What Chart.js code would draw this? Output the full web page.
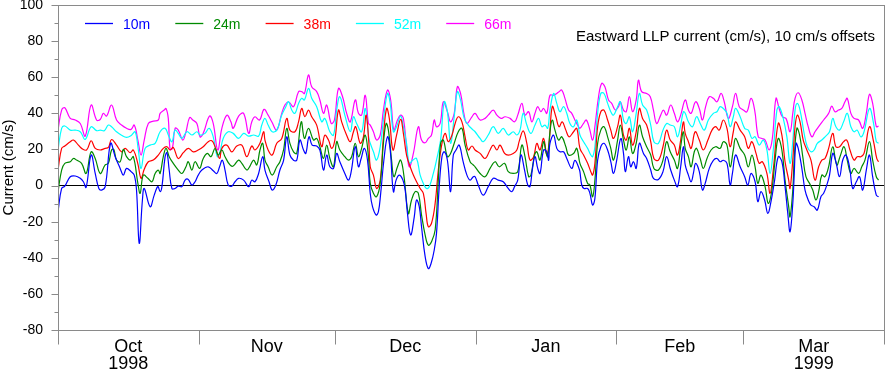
<!DOCTYPE html>
<html>
<head>
<meta charset="utf-8">
<script src="https://cdn.jsdelivr.net/npm/chart.js@4"></script>
<style>
  html, body { margin: 0; padding: 0; background: #fff; }
  #wrap { width: 885px; height: 372px; }
</style>
</head>
<body>
<div id="wrap"><canvas id="llpChart" width="885" height="372"></canvas></div>
<script>
// [day since 1 Oct 1998, eastward current cm/s] -- each depth already offset by 10 cm/s
const m10 = [[0,-14.5],[0.8,-1.6],[1.5,-0.3],[2.7,4.9],[3.8,5.3],[4.9,4],[5.6,2.1],[6.2,-1],[7.3,16.9],[8.2,6.7],[9,-1.6],[9.6,-2.5],[10.4,-0.6],[11.6,23.4],[12.6,16],[13.7,9.5],[14.4,5.8],[15.1,9.5],[16.1,7.7],[16.8,5.8],[17.3,-2.5],[17.9,-32],[18.6,-8],[19,-1.6],[20.3,-11.7],[21.2,-5.3],[22,-0.6],
  [22.5,-3.4],[22.9,-0.6],[23.6,16],[24,18.2],[24.5,8.6],[25.1,-1.6],[25.8,-1.6],[26.5,-0.3],[27.3,-0.6],[28,3],[28.7,3.4],[29.5,0.3],[30.2,2.1],[30.9,5.8],[31.7,8.6],[33.1,10.4],[34.2,8.2],[35,6.7],[35.6,10.4],[36.2,14],[36.8,8.6],[37.5,0.3],[38.3,-0.3],[39,2.1],[39.8,4],[40.9,3],[42,-0.6],[42.7,3],[43.4,2.1],[44.2,6.7],[45.1,16],
  [45.6,8.6],[46.5,2.1],[47.2,-2.5],[48,0.3],[48.9,8.6],[49.7,14],[50.4,27],[51.1,16.9],[51.9,14],[52.6,14],[53.3,25.2],[54.1,19.7],[54.6,17.8],[55.3,27],[56,22.4],[57,21.9],[57.7,19.7],[58.5,8.6],[59.2,16.9],[59.9,10.4],[60.7,9.5],[61.4,17.8],[62.1,13.2],[63.2,6.7],[64,3],[64.6,7.7],[65.5,21.5],[66.2,10.4],[66.8,15],[67.5,20.6],[68.2,14],
  [68.8,-4.3],[69.3,-11.7],[70.1,-16.3],[70.6,-14.5],[71.1,-4.3],[71.8,14],[72.6,27],[73.2,19.7],[73.9,-3.4],[74.5,3],[75.2,5.8],[76,3],[76.5,-2.5],[77,-15.4],[77.7,-27.4],[78.5,-17.3],[79,-8],[79.6,-11.7],[80.1,-22.8],[80.9,-39.4],[81.6,-46],[82.2,-43.2],[82.9,-35.7],[83.4,-26.5],[84,-0.6],[84.6,16],[85.1,18.7],[85.8,14],[86.5,-3.4],[87.1,16.9],[87.7,19.7],[88.4,22.4],[89.2,14],[90.1,5.8],[90.8,3],[91.5,4.9],
  [91.9,4.9],[92.6,0.3],[93.7,-5.3],[94.8,-0.6],[95.9,4],[97,3],[98.1,2.1],[99.2,-1.6],[100,-3.4],[100.6,-0.6],[101.3,3],[102,16.9],[102.8,8.6],[103.5,0.3],[104,-0.6],[104.5,8.6],[105.1,16],[105.7,9.5],[106.2,6.7],[107,19.7],[107.7,18.7],[108.1,14],[108.4,23.4],[109.2,27.9],[109.9,20.6],[110.6,18.7],[111.4,18.7],[112.1,15],[113.2,9.5],[113.9,14],[114.8,9.5],
  [115,7.7],[115.4,0.3],[115.9,-1.6],[116.7,-1.6],[117.2,-4.3],[117.8,-10.8],[118.3,-7.1],[118.9,14],[119.6,21.5],[120.3,23.4],[121.1,19.7],[121.8,13.2],[122.4,6.7],[123.1,14],[124,26],[124.6,17.8],[125,7.7],[125.7,16],[126.2,10.4],[126.8,13.2],[127.4,9.5],[128.1,23.4],[129,17.8],[129.7,15],[130.6,8.6],[131.2,4],[132.3,3.4],[133.3,7.7],[134.1,16],[135,8.6],[135.8,3],[136.5,-0.6],[137.2,10.4],[137.8,21.5],
  [138.2,11.4],[138.9,5.8],[139.5,2.1],[140,6.7],[140.5,12.3],[141.3,7.7],[142,-2.5],[142.6,1.2],[143.5,9.5],[144.4,14],[145.2,15],[145.9,13.2],[146.6,14],[147.4,12.3],[148.1,0.3],[148.6,6.7],[149.3,16.9],[150.3,10.4],[151.3,4.9],[152,0.3],[152.7,6.7],[153.6,2.1],[154.2,-8.9],[154.9,-3.4],[155.7,-8],[156.4,-15.4],[157.1,-8.9],[157.9,3],[158.7,16],[159.5,13.2],[160.2,-0.6],[160.8,-15.4],[161.3,-25.6],
  [161.9,-9.9],[162.2,4.9],[162.6,23.4],[163.1,20.6],[163.9,9.5],[164.6,-2.5],[165.3,-8],[165.9,-10.8],[166.6,-11.7],[167.3,-13.6],[168.1,-6.2],[168.7,-4.3],[169.4,0.3],[170,5.8],[170.7,17.8],[171.4,13.2],[172.2,4.9],[172.9,14],[173.6,16.9],[174.4,10.4],[175.1,-1.6],[175.9,2.1],[176.6,4.9],[177.3,-2.5],[178.1,8.6],[178.8,16.9],[179.5,4.9],[180.3,-5.3],[180.8,-6.2]];

const m24 = [[0,-3.4],[0.8,8.6],[1.5,12.3],[2.7,13.2],[3.4,15],[4.1,14.1],[5.2,12.3],[6.2,6.7],[7.3,18.7],[8.2,15],[9.3,6.7],[10.4,11.4],[11.1,12.3],[11.8,19.7],[12.3,20],[12.9,14.1],[13.7,13.2],[14.4,20],[15.1,16],[15.9,14.1],[16.6,16],[17.6,1.2],[18.1,-4.3],[18.8,5.8],[19.8,4],[20.7,2.1],[21.4,6.7],[22.1,8.6],
  [22.5,6.7],[23.2,16],[23.8,20.6],[24.5,16],[25.4,12.3],[26.5,8.6],[27.3,6.7],[28.2,10.4],[28.7,13.2],[29.5,8.6],[30.2,13.2],[31.2,9.5],[32,15],[32.9,17.8],[33.7,16],[34.6,20.6],[35.3,16.9],[36.1,19.7],[36.8,16],[37.9,11.4],[38.6,10.8],[39.8,14.1],[40.5,12.3],[41.6,8.6],[42.3,10.8],[43.1,14.1],[43.8,11.4],[44.5,19.7],[45.1,23.4],
  [45.6,14.1],[46.3,10.4],[47.2,5.8],[48.2,10.4],[48.9,13.2],[49.7,19.7],[50.4,31.7],[51.1,23.4],[51.9,18.7],[52.6,17.8],[53.6,35.3],[54.3,26.1],[55.2,31.7],[56.3,25.2],[57,26.1],[57.7,21.5],[58.5,15],[59.2,22.4],[59.9,15],[60.7,10.4],[61.4,24.3],[62.1,19.7],[63.2,16],[64,14.1],[64.7,16],[65.5,23.4],[66.2,16],[66.9,20.6],[67.7,27.9],[68.4,16],
  [68.8,1.2],[69.5,-4.3],[70.2,-6.2],[71,1.2],[71.7,23.4],[72.3,34.4],[72.8,30.7],[73.5,14.1],[74,4.9],[74.8,10.4],[75.5,14.1],[76.2,5.8],[77.2,-15.4],[77.9,-8],[78.7,-3.4],[79.4,-4.3],[80.1,-16.3],[80.9,-27.4],[81.6,-33],[82.3,-31.1],[83.1,-24.6],[83.8,3],[84.3,23.4],[84.9,25.2],[85.8,16],[86.5,17.8],[87.3,23.4],[88.2,29.8],[89,31.7],[89.7,22.4],[90.8,13.2],[91.5,11.4],
  [91.9,10.4],[93,6.7],[94.1,4.9],[95.2,9.5],[96.3,13.2],[97.2,10.4],[98.4,12.3],[99.2,7.7],[100.3,6.7],[101.3,7.7],[102.2,22.4],[102.9,16],[103.7,4.9],[104.2,5.8],[105,16.9],[105.5,18.7],[106.2,14.1],[107,24.3],[107.5,18.7],[107.9,16],[108.4,29.8],[108.9,36.3],[109.5,30.7],[110.3,25.2],[111,27],[111.9,21.5],[112.5,16.9],[113.6,17.8],[114.3,20.6],
  [115,12.3],[115.8,7.7],[116.7,1.2],[117.2,0.3],[117.8,-6.2],[118.3,3],[118.9,23.4],[119.6,30.7],[120.3,32.6],[121.1,27],[121.8,20.6],[122.4,14.1],[123.3,25.2],[123.9,33.5],[124.6,25.2],[125.2,19.7],[125.9,27],[126.6,17.8],[127.4,23.4],[128.1,33.5],[128.8,27],[129.7,21.5],[130.6,16.9],[131.3,9.5],[132.3,8.6],[133.3,14.1],[134.1,24.3],[134.9,18.7],[135.8,14.1],[136.5,9.5],[137.2,21.5],[137.8,29.8],
  [138.2,20.6],[138.9,16],[139.5,10.4],[140.2,18.7],[140.7,20.6],[141.5,15],[142.2,9.5],[143,15],[143.9,19.7],[144.9,21.5],[145.9,20.6],[146.6,24.3],[147.4,22.4],[148.1,10.4],[148.8,19.7],[149.3,26.1],[150.3,20.6],[151.3,16.9],[152.1,10.4],[152.9,16.9],[153.6,10.4],[154.2,1.2],[154.9,5.8],[155.8,-0.6],[156.5,-9.9],[157.3,-2.5],[158,14.1],[158.7,26.1],[159.5,19.7],[160.2,3],[161,-11.7],
  [161.3,-17.3],[161.9,-2.5],[162.2,14.1],[162.8,31.7],[163.4,28],[164.1,16],[164.8,4.9],[165.6,1.2],[166.3,-2.5],[167,-8],[167.6,-3.4],[168.3,5.8],[169,4.9],[169.8,10.4],[170.7,21.5],[171.6,11.4],[172.3,16],[173.2,21.5],[173.9,14.1],[174.7,6.7],[175.4,9.5],[176.4,6.7],[177.1,10.4],[177.8,14.1],[178.8,24.3],[179.5,14.1],[180.3,4.9],[180.8,3]];

const m38 = [[0,8.6],[0.8,20.6],[1.5,21.9],[2.7,24.3],[3.4,25.2],[4.5,22.4],[5.2,20.6],[6.3,19.7],[7.3,24.8],[8.2,20.6],[9.3,19.7],[10.4,20.6],[11.1,21.1],[11.8,25.5],[12.9,22.4],[14,18.7],[14.8,20.6],[15.9,18.2],[16.6,19.7],[17.6,12],[18.3,4],[19,9],[19.9,13.2],[21,14.1],[22.1,16.9],
  [23.2,20.6],[24,21.5],[24.7,19.7],[25.4,21.1],[26.5,15],[27.6,18.2],[28.7,20.6],[29.8,18.7],[30.9,19.7],[32,21.5],[33.1,24.3],[33.9,24.8],[34.6,21.5],[35.6,15],[36.1,20.6],[37.2,22.4],[38.3,18.7],[39.4,21.9],[40.5,22.4],[41.6,16],[42.7,21.9],[43.4,19.7],[44.5,23.4],[45.3,29.8],
  [45.6,25.2],[46.3,19.7],[47.2,16.9],[48.2,23.4],[49.3,26.1],[50.4,37.2],[51.1,30.7],[52.2,29.8],[53,35.3],[53.7,42.7],[54.4,38.1],[55.2,41.8],[55.9,38.1],[57,33.5],[58.1,21.5],[58.8,27.9],[59.6,25.2],[60.3,20.6],[61,25.2],[61.8,41.8],[62.5,35.3],[63.6,27.9],[64.4,24.3],[65.1,29.8],[65.6,32.6],[66.6,23.4],[67.3,27],[67.9,39],[68.5,23.4],
  [68.8,10.4],[69.5,5.8],[70.2,-1.6],[71,3],[71.7,27],[72.4,42.7],[73,37.2],[73.8,19.7],[74.6,27.9],[75.5,36.7],[76.1,28.9],[76.8,16.9],[77.6,10.4],[78.3,5.8],[79,2.1],[79.8,-1.6],[80.5,-4.3],[81.1,-15.4],[81.6,-22.8],[82.3,-20.9],[83.1,-9.9],[83.8,8.6],[84.6,23.4],[85.3,28.9],[86,24.3],[86.8,27.9],[87.5,34.4],[88.2,38.1],[89,35.3],[89.7,27],[90.4,19.7],[91.2,21.9],
  [91.9,19.7],[93,17.8],[94.1,15],[95.2,19.7],[95.9,22.4],[96.7,19.7],[97.4,22.4],[98.4,17.8],[99.2,16.9],[100.3,17.8],[101.1,19.7],[101.6,24.3],[102.5,30.3],[103.3,23.4],[104,14.1],[104.8,16],[105.5,23.4],[106.2,19.7],[107,26.1],[107.7,16.9],[108.2,23.4],[108.9,43.7],[109.7,38.1],[110.4,32.6],[111.1,35.3],[111.9,30.7],[112.6,27],[113.6,29.8],[114.3,31.7],
  [115,20.6],[115.8,16.9],[116.7,12.3],[117.4,7.7],[117.8,5.8],[118.3,12.3],[118.9,32.6],[119.6,40.9],[120.3,41.8],[121.1,36.3],[121.8,30.7],[122.4,26.1],[123.3,32.6],[123.9,39],[124.6,27.9],[125.2,25.2],[125.9,31.7],[126.6,22.4],[127.4,29.8],[128.1,42.7],[128.8,37.2],[129.7,33.5],[130.6,24.3],[131.3,15],[132.3,14.1],[133.3,21.5],[134.1,30.7],[134.9,25.2],[135.8,22.4],[136.5,16.9],[137.2,25.2],[137.8,35.3],
  [138.2,28.9],[138.9,24.3],[139.5,20.6],[140.4,29.8],[141.3,25.2],[142.2,19.7],[143.2,25.2],[144.1,30.7],[144.9,32.6],[145.7,30.7],[146.6,36.3],[147.4,31.7],[148.1,21.5],[148.8,29.8],[149.3,35.3],[150.3,30.7],[151.3,27],[152.1,20.6],[152.9,24.3],[153.8,17.8],[154.5,12.3],[155.2,13.2],[156.2,6.7],[156.9,-4.3],[157.6,8.6],[158.7,34.4],[159.5,27.9],[160.2,13.2],[161,3],
  [161.3,-1.6],[161.9,14.1],[162.4,32.6],[162.9,39],[163.5,35.3],[164.2,25.2],[165,19.7],[165.9,14.1],[166.8,3],[167.6,10.4],[168.3,14.1],[169,15],[169.8,20.6],[170.7,28.9],[171.4,21.5],[172.2,21.5],[173.1,24.3],[173.8,25.2],[174.5,19.7],[175.4,14.1],[176.1,16],[176.9,16],[177.6,17.8],[178.8,32.6],[179.7,24.3],[180.4,15],[180.8,13.2]];

const m52 = [[0,19.7],[0.8,31.7],[1.5,33],[2.7,30.7],[3.8,30.7],[4.9,29.8],[6,25.6],[7.3,32.6],[8.5,30.4],[9.3,30.7],[10.2,30.4],[11.1,33.5],[11.8,32.6],[12.9,29.8],[14,27.9],[15.1,26.7],[16.2,27.9],[17,29.8],[17.7,19.7],[18.3,9.5],[19.2,20.6],[20.3,22.4],[21.4,23.4],
  [22.5,29.8],[23.6,31.7],[24.3,28],[25.1,24.3],[25.8,30.7],[26.5,28.9],[27.3,26.1],[28.4,29.8],[29.5,28],[30.6,29.8],[31.3,28],[32.4,28.9],[33.3,31.7],[34.2,27],[35.1,16],[35.7,18.7],[36.4,26.1],[37.5,29.8],[38.6,28.9],[39.8,26.1],[40.9,28.9],[42,27.4],[43.1,28],[44.2,27.4],[44.9,33.5],
  [45.6,37.2],[46.3,33.5],[47.2,29.8],[48.2,30.7],[49.3,39],[50.2,43.7],[50.8,46.4],[51.5,41.8],[52.2,40],[53,45.5],[53.7,48.3],[54.3,47.4],[55.2,53.8],[55.9,48.3],[57,43.7],[58.1,35.3],[58.8,37.2],[59.9,29.8],[60.7,27.9],[61.4,41.8],[62.1,49.2],[63.2,39],[64.4,29.8],[65.1,38.1],[65.8,34.4],[66.9,29.8],[67.7,42.7],[68.5,26.1],
  [68.8,23.4],[69.5,18.7],[70.2,14.1],[71,21.5],[71.7,36.3],[72.6,51],[73.2,45.5],[73.9,29.8],[74.6,32.6],[75.5,38.5],[76.1,32.6],[76.8,23.4],[77.4,12.3],[78.2,14.1],[79,15],[79.8,5.8],[80.5,1.2],[81.2,-1.6],[81.8,-0.6],[82.7,6.7],[83.4,14.1],[84.3,25.2],[85.1,46.4],[85.8,40.9],[86.5,23.4],[87.3,38.1],[88,52],[88.7,47.4],[89.5,37.2],[90.4,33.5],[91.5,30.7],
  [91.9,29.8],[93,26.1],[93.7,24.3],[94.8,28],[95.9,32.6],[97,28.9],[98.1,31.7],[99.2,28],[100.3,29.8],[101.1,28],[101.8,30.7],[102.5,40],[103.3,33.5],[104.2,28.9],[105.1,33.5],[105.9,37.2],[106.6,32.6],[107.3,33.5],[107.9,31.7],[108.4,41.8],[109.2,51],[109.9,45.5],[110.6,40.9],[111.4,43.7],[112.1,40],[112.8,34.4],[113.6,32.6],[114.3,36.3],
  [115,28],[115.8,24.3],[116.7,20.6],[117.4,16.9],[117.8,16],[118.3,21.5],[118.9,40],[119.6,51],[120.3,51],[121.1,45.5],[121.8,40.9],[122.4,39],[123.3,43.7],[123.9,46.4],[124.6,36.3],[125.2,34.4],[125.9,38.1],[126.6,29.8],[127.4,40],[128.1,51],[128.8,44.6],[129.7,41.8],[130.6,33.5],[131.3,24.3],[132.3,23.4],[133.3,30.7],[134.1,34.4],[134.9,33.5],[135.8,32.6],[136.5,27],[137.2,33.5],[137.8,40.9],
  [138.2,40],[138.9,35.3],[139.8,32.6],[140.7,38.1],[141.5,34.4],[142.4,30.7],[143.3,36.3],[144.4,40],[145.2,40.9],[145.9,43.7],[146.6,42.7],[147.4,40],[148.1,32.6],[148.8,38.1],[149.3,42.7],[150.3,38.1],[151.3,31.7],[152.1,30.7],[152.9,26.1],[153.6,27],[154.5,22.4],[155.4,25.2],[156.2,19.7],[156.9,6.7],[157.6,19.7],[158.4,41.8],[158.9,43.7],[159.8,37.2],[160.6,27],
  [161.3,12.3],[161.9,24.3],[162.4,41.8],[162.9,45.5],[163.5,41.8],[164.4,28.9],[165.1,21.5],[165.9,18.7],[166.6,19.7],[167.3,23.4],[168.3,25.2],[169,27],[170,29.8],[170.7,37.2],[171.4,32.6],[172.2,30.7],[173.1,35.3],[173.9,40],[174.7,32.6],[175.4,29.8],[176.1,30.7],[176.9,27],[177.6,29.8],[178.8,42.7],[179.7,34.4],[180.3,24.3],[180.8,23.4]];

const m66 = [[0,30.7],[0.8,41.8],[1.5,43.1],[2.7,37.2],[3.8,36.3],[4.9,34.4],[6,27.4],[7.3,44.6],[8.5,36.3],[9.3,36.6],[10,40],[10.7,38.5],[11.8,44.6],[12.9,36.3],[14,33.5],[15.1,31.7],[16.1,31.1],[16.8,33.5],[17.6,25.2],[18.3,16.9],[19,25.2],[19.9,34.4],[21,35.7],[22.1,36.3],
  [22.5,40],[23.4,41.8],[23.8,42.7],[24.3,37.2],[24.7,20],[25.2,20.6],[25.8,31.7],[26.5,30.7],[27.5,25.2],[28.2,29.8],[29,37.7],[29.7,36.3],[30.6,34.4],[31.3,27],[32,28.9],[33.4,38.5],[34.2,34.4],[35.2,19.7],[36.1,31.7],[37.2,39],[38.1,35.3],[38.6,31.7],[39.8,38.5],[40.9,40],[42,28.9],[42.7,35.3],[43.4,38.1],[44.4,36.3],[45.4,42.2],
  [46.3,39],[47.1,35.3],[48.2,30.7],[49.3,40],[50,44.6],[50.8,46.4],[51.9,43.7],[53,52],[53.7,52],[54.3,51],[55.2,61.2],[55.9,54.7],[57,52],[57.7,47.4],[58.5,40],[59.2,44.6],[60.2,34.4],[60.9,36.3],[61.8,53.8],[62.7,49.2],[63.6,40],[64.4,35.3],[65.5,47.4],[66.2,40],[66.9,39],[67.7,50],[68.4,34.4],
  [68.8,33.5],[69.5,29.8],[70.2,25.2],[71,28],[71.7,41.8],[72.6,52.9],[73.3,47.4],[74,30.7],[74.8,36.3],[75.5,39],[76.1,37.2],[76.8,21.5],[77.4,10.4],[78.3,17.8],[79.4,32.6],[80.1,25.2],[80.9,23.7],[81.6,26.1],[82.3,28],[82.9,36.3],[83.4,32.6],[84.2,34.4],[84.9,46.4],[85.8,40.9],[86.5,35.3],[87.3,40],[88,54.7],[88.7,51],[89.5,39],[90.1,34.4],[91.2,38.1],
  [91.9,40],[93,36.3],[94.1,37.2],[94.8,39],[95.9,41.8],[96.7,39],[97.6,37.2],[98.5,38.1],[99.6,37.2],[100.6,35.3],[101.3,39],[102.2,45.5],[102.9,39],[103.7,40.9],[104.4,35.3],[105.1,40],[105.7,43.7],[106.4,40.9],[107,42.7],[107.7,40],[108.4,50],[109.2,50],[109.9,51],[110.4,52],[111,52.9],[111.7,48.3],[112.5,41.8],[113.2,40],[113.9,36.3],[114.7,32.6],
  [115,31.7],[115.8,34.4],[116.4,36.3],[117.1,31.7],[117.8,25.2],[118.3,32.6],[119.1,49.2],[119.8,56.6],[120.5,54.7],[121.3,47.4],[122,45.5],[122.8,41.8],[123.5,43.7],[123.9,46.4],[124.6,41.8],[125.2,40.9],[125.9,49.2],[126.6,40.9],[127.4,47.4],[127.9,58.4],[128.6,52],[129.7,51],[130.5,49.2],[131.2,41.8],[131.9,34.4],[132.8,39],[133.4,41.8],[134.1,39],[135,44.6],[135.8,40],[136.5,35.3],[137.2,39],
  [138.2,47.4],[138.9,41.8],[139.5,40],[140.5,46.4],[141.3,42.7],[142,36.3],[142.7,43.7],[143.5,49.2],[144.4,48.3],[145.2,46.4],[146.1,51],[146.8,46.4],[147.7,37.2],[148.6,43.7],[149.3,51],[150.1,43.7],[151,41.8],[151.8,40.9],[152.7,48.3],[153.5,41.8],[154.3,27],[155.1,26.1],[155.8,25.2],[156.7,19.7],[157.4,26.1],[158.2,48.3],[158.9,42.7],[159.6,38.1],[160.4,37.2],
  [161.3,29.8],[161.9,40],[162.4,48.3],[163.1,51.4],[163.9,47.4],[164.6,40],[165.3,32.6],[166.1,27],[166.8,29.8],[167.6,32.6],[168.7,36.3],[169.8,40],[170.5,44],[171.2,40.9],[172,41.8],[172.7,42.7],[173.4,46.4],[173.9,48.3],[174.7,40],[175.4,37.2],[176.4,36.3],[177.3,31.7],[178.1,40],[178.8,50.5],[179.5,45.5],[180.3,32.6],[180.8,32.9]];

const depthNames = ['10m', '24m', '38m', '52m', '66m'];
const depthColors = ['#0000ff', '#008a00', '#ff0000', '#00ffff', '#ff00ff'];
const monthEdges = [0, 31, 61, 92, 123, 151, 182];
const monthMids = [15.5, 46, 76.5, 107.5, 137, 166.5];
const monthLabels = [['Oct', '1998'], 'Nov', 'Dec', 'Jan', 'Feb', ['Mar', '1999']];
const noteText = 'Eastward LLP current (cm/s), 10 cm/s offsets';

const FONT = '"Liberation Sans", Arial, Helvetica, sans-serif';
const AXIS_GREY = '#8a8a8a';

// frame, outward tick marks, in-plot legend and note
const decorPlugin = {
    id: 'decor',
    afterDraw(chart) {
        const { ctx, chartArea: a, scales: { x, y } } = chart;
        ctx.save();
        ctx.lineWidth = 1;
        ctx.strokeStyle = AXIS_GREY;
        ctx.strokeRect(a.left + 0.5, a.top + 0.5, a.right - a.left, a.bottom - a.top);

        ctx.beginPath();
        for (let v = -80; v <= 100; v += 10) {
            const py = Math.round(y.getPixelForValue(v)) + 0.5;
            const len = v % 20 === 0 ? 7 : 4;
            ctx.moveTo(a.left + 0.5 - len, py);
            ctx.lineTo(a.left + 0.5, py);
        }
        monthEdges.forEach(d => {
            const px = Math.round(x.getPixelForValue(d)) + 0.5;
            ctx.moveTo(px, a.bottom + 0.5);
            ctx.lineTo(px, a.bottom + 14.5);
        });
        ctx.stroke();

        ctx.font = '14px ' + FONT;
        ctx.textBaseline = 'alphabetic';
        ctx.lineWidth = 1.3;
        depthNames.forEach((name, i) => {
            const x0 = 85 + 90.3 * i;
            ctx.strokeStyle = depthColors[i];
            ctx.beginPath();
            ctx.moveTo(x0, 23.5);
            ctx.lineTo(x0 + 28, 23.5);
            ctx.stroke();
            ctx.fillStyle = depthColors[i];
            ctx.textAlign = 'left';
            ctx.fillText(name, x0 + 38, 29);
        });

        ctx.font = '15px ' + FONT;
        ctx.fillStyle = '#000';
        ctx.textAlign = 'right';
        ctx.fillText(noteText, 875, 41);
        ctx.restore();
    }
};

const allDepths = [m10, m24, m38, m52, m66];

new Chart(document.getElementById('llpChart').getContext('2d'), {
    type: 'line',
    data: {
        datasets: allDepths.map((series, i) => ({
            label: depthNames[i],
            data: series.map(p => ({ x: p[0], y: p[1] })),
            borderColor: depthColors[i],
            borderWidth: 1.2,
            pointRadius: 0,
            fill: false,
            tension: 0.4
        }))
    },
    options: {
        responsive: false,
        animation: false,
        layout: { padding: { top: 5, right: 1, left: 0, bottom: 0 } },
        plugins: {
            legend: { display: false },
            tooltip: { enabled: false }
        },
        scales: {
            x: {
                type: 'linear',
                min: 0,
                max: 182,
                afterBuildTicks: s => { s.ticks = monthMids.map(v => ({ value: v })); },
                afterFit: s => { s.height = 42; s.paddingLeft = 0; s.paddingRight = 0; },
                grid: { display: false, drawTicks: false },
                border: { display: false },
                ticks: {
                    autoSkip: false,
                    maxRotation: 0,
                    padding: 9,
                    color: '#000',
                    font: { family: FONT, size: 18, lineHeight: 0.93 },
                    callback: (v, i) => monthLabels[i]
                }
            },
            y: {
                min: -80,
                max: 100,
                afterFit: s => { s.width = 58; s.paddingTop = 0; s.paddingBottom = 0; },
                grid: {
                    drawTicks: false,
                    color: c => (c.tick && c.tick.value === 0) ? '#000' : 'rgba(0,0,0,0)'
                },
                border: { display: false },
                ticks: {
                    stepSize: 20,
                    padding: 15,
                    color: '#000',
                    font: { family: FONT, size: 14 }
                },
                title: {
                    display: true,
                    text: 'Current (cm/s)',
                    color: '#000',
                    padding: 0,
                    font: { family: FONT, size: 15 }
                }
            }
        }
    },
    plugins: [decorPlugin]
});
</script>
</body>
</html>
